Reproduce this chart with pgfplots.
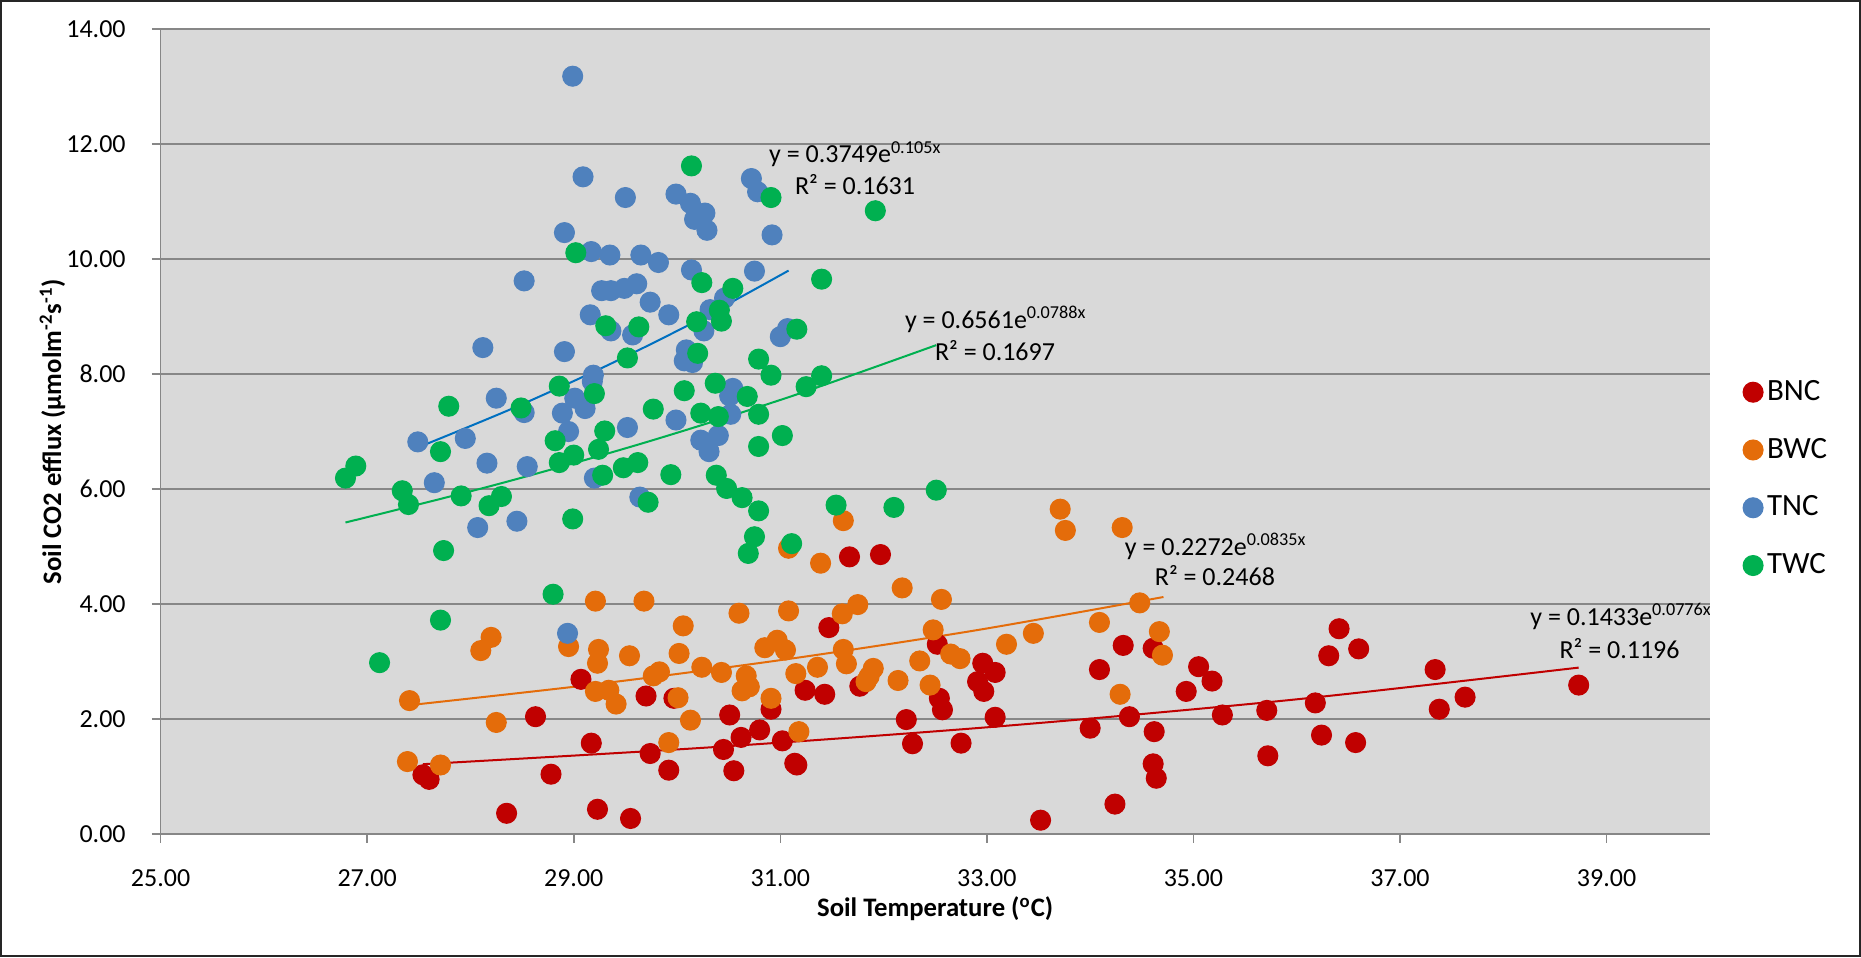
\documentclass[border=0pt]{standalone}
\usepackage{fontspec}
\setmainfont{Carlito}
\usepackage{pgfplots}
\pgfplotsset{compat=1.18}
\definecolor{bnc}{HTML}{C00000}
\definecolor{bwc}{HTML}{E46C0A}
\definecolor{tnc}{HTML}{4F81BD}
\definecolor{twc}{HTML}{00B050}
\definecolor{tnctl}{HTML}{0070C0}
\definecolor{gridc}{HTML}{878787}
\definecolor{plotbg}{HTML}{D9D9D9}
\begin{document}
\begin{tikzpicture}
\path[use as bounding box] (0,0) rectangle (715.8pt,368.1pt);
\begin{axis}[
  at={(61.77pt,47.31pt)}, anchor=south west,
  width=595.9pt, height=309.6pt, scale only axis,
  xmin=25, xmax=40, ymin=0, ymax=14,
  xtick={25,27,...,39}, ytick={0,2,...,14},
  axis background/.style={fill=plotbg},
  axis x line*=bottom, axis y line*=left,
  axis line style={gridc, line width=0.6pt},
  ymajorgrids, grid style={gridc, line width=0.65pt},
  tick style={gridc, line width=0.6pt}, tick align=outside, major tick length=3.4pt,
  /pgf/number format/fixed, /pgf/number format/fixed zerofill,
  /pgf/number format/precision=2, /pgf/number format/assume math mode=true,
  ticklabel style={font=\fontsize{10}{12}\selectfont, inner sep=0pt},
  yticklabel style={anchor=east}, xticklabel style={anchor=north},
  yticklabel shift=9.85pt, xticklabel shift=10pt,
  xlabel={\bfseries Soil Temperature (\textsuperscript{o}C)},
  xlabel style={at={(axis description cs:0.5,-0.1027)}, anchor=base, inner sep=0pt, font=\fontsize{10.27}{12}\selectfont},
  ylabel={\bfseries Soil CO2 efflux (µmolm\textsuperscript{-2}s\textsuperscript{-1})},
  ylabel style={at={(axis description cs:-0.0611,0.5)}, anchor=south, inner sep=0pt, font=\fontsize{10.27}{12}\selectfont},
  legend image code/.code={\draw[mark repeat=2,mark phase=2,#1] plot coordinates {(0pt,0pt) (5pt,0pt) (10pt,0pt)};},
  legend style={at={(rel axis cs:1.0211,0.4412)}, anchor=west, draw=none, fill=none, inner sep=0pt,
    font=\fontsize{11.9}{14}\selectfont, nodes={inner sep=0pt}, row sep=13pt,
    /tikz/every odd column/.append style={column sep=1.5pt}},
  legend cell align=left,
]
% BNC
\addplot[only marks, mark=*, mark size=3.85pt, draw=bnc, fill=bnc] coordinates {
(27.54,1.03) (27.60,0.95) (28.35,0.36) (28.63,2.04) (28.78,1.04) (29.07,2.69) (29.17,1.58)
(29.23,0.43) (29.55,0.27) (29.70,2.40) (29.74,1.40) (29.92,1.11) (29.97,2.36) (30.45,1.47)
(30.51,2.07) (30.55,1.10) (30.62,1.68) (30.80,1.81) (30.91,2.17) (31.02,1.62) (31.14,1.23)
(31.16,1.20) (31.24,2.50) (31.43,2.43) (31.47,3.59) (31.67,4.82) (31.77,2.57) (31.97,4.86)
(32.22,1.99) (32.28,1.57) (32.52,3.30) (32.54,2.36) (32.57,2.16) (32.75,1.58) (32.91,2.65)
(32.96,2.97) (32.97,2.48) (33.08,2.81) (33.08,2.03) (33.52,0.24) (34.00,1.84) (34.09,2.86)
(34.24,0.52) (34.32,3.28) (34.38,2.04) (34.61,3.23) (34.62,1.78) (34.61,1.22) (34.64,0.97)
(34.93,2.48) (35.05,2.91) (35.18,2.66) (35.28,2.07) (35.71,2.15) (35.72,1.36) (36.18,2.28)
(36.24,1.72) (36.31,3.10) (36.41,3.57) (36.57,1.59) (36.60,3.22) (37.34,2.86) (37.38,2.17)
(37.63,2.38) (38.73,2.59)
};
\addlegendentry{BNC}
% BWC
\addplot[only marks, mark=*, mark size=3.85pt, draw=bwc, fill=bwc] coordinates {
(27.39,1.26) (27.41,2.32) (27.71,1.20) (28.10,3.19) (28.20,3.42) (28.25,1.94) (28.95,3.26)
(29.21,4.05) (29.21,2.48) (29.23,2.97) (29.24,3.21) (29.34,2.50) (29.41,2.26) (29.54,3.10)
(29.68,4.05) (29.77,2.75) (29.83,2.82) (29.92,1.59) (30.01,2.37) (30.02,3.14) (30.06,3.62)
(30.13,1.98) (30.24,2.90) (30.43,2.81) (30.60,3.84) (30.63,2.49) (30.67,2.75) (30.70,2.56)
(30.85,3.24) (30.91,2.36) (30.97,3.37) (31.05,3.20) (31.08,4.97) (31.08,3.88) (31.15,2.79)
(31.18,1.78) (31.36,2.90) (31.39,4.71) (31.60,3.83) (31.61,5.45) (31.61,3.21) (31.64,2.96)
(31.75,3.99) (31.83,2.65) (31.86,2.74) (31.90,2.88) (32.14,2.67) (32.18,4.28) (32.35,3.01)
(32.45,2.59) (32.48,3.55) (32.56,4.08) (32.65,3.13) (32.74,3.05) (33.19,3.30) (33.45,3.49)
(33.71,5.65) (33.76,5.28) (34.09,3.68) (34.29,2.43) (34.31,5.33) (34.48,4.02) (34.67,3.52)
(34.70,3.11)
};
\addlegendentry{BWC}
% TNC
\addplot[only marks, mark=*, mark size=3.85pt, draw=tnc, fill=tnc] coordinates {
(27.49,6.82) (27.65,6.11) (27.95,6.88) (28.07,5.33) (28.12,8.46) (28.16,6.45) (28.25,7.58)
(28.45,5.44) (28.52,9.62) (28.52,7.33) (28.55,6.39) (28.89,7.32) (28.91,10.46) (28.91,8.39)
(28.94,3.49) (28.95,7.00) (28.99,13.18) (29.01,7.58) (29.09,11.43) (29.11,7.40) (29.16,9.03)
(29.17,10.13) (29.18,7.87) (29.19,7.98) (29.20,6.19) (29.27,9.45) (29.35,10.07) (29.36,9.45)
(29.36,8.75) (29.49,9.49) (29.50,11.07) (29.52,7.07) (29.57,8.68) (29.61,9.57) (29.64,5.86)
(29.65,10.07) (29.74,9.25) (29.82,9.94) (29.92,9.03) (29.99,11.13) (29.99,7.20) (30.07,8.23)
(30.09,8.42) (30.13,10.97) (30.14,9.81) (30.15,8.20) (30.17,10.69) (30.23,6.85) (30.26,8.75)
(30.27,10.80) (30.29,10.50) (30.31,6.65) (30.32,9.12) (30.40,6.93) (30.46,9.32) (30.51,7.62)
(30.52,7.30) (30.54,7.75) (30.72,11.40) (30.75,9.79) (30.78,11.17) (30.92,10.42) (31.00,8.65)
(31.07,8.79)
};
\addlegendentry{TNC}
% TWC
\addplot[only marks, mark=*, mark size=3.85pt, draw=twc, fill=twc] coordinates {
(26.79,6.19) (26.89,6.40) (27.12,2.98) (27.34,5.97) (27.40,5.73) (27.71,6.65) (27.71,3.72)
(27.74,4.93) (27.79,7.44) (27.91,5.88) (28.18,5.71) (28.30,5.87) (28.49,7.41) (28.80,4.17)
(28.82,6.84) (28.86,7.79) (28.86,6.46) (28.99,5.48) (29.00,6.59) (29.02,10.11) (29.20,7.66)
(29.24,6.69) (29.28,6.24) (29.30,7.01) (29.31,8.84) (29.48,6.37) (29.52,8.28) (29.62,6.46)
(29.63,8.82) (29.72,5.77) (29.77,7.39) (29.94,6.25) (30.07,7.71) (30.14,11.62) (30.19,8.91)
(30.20,8.36) (30.23,7.32) (30.24,9.59) (30.37,7.84) (30.38,6.24) (30.40,7.26) (30.41,9.11)
(30.43,8.92) (30.48,6.01) (30.54,9.49) (30.63,5.85) (30.68,7.61) (30.69,4.88) (30.75,5.17)
(30.79,8.26) (30.79,7.30) (30.79,6.74) (30.79,5.62) (30.91,11.07) (30.91,7.98) (31.02,6.93)
(31.11,5.05) (31.16,8.78) (31.25,7.78) (31.40,9.65) (31.40,7.97) (31.54,5.72) (31.92,10.84)
(32.10,5.68) (32.51,5.98)
};
\addlegendentry{TWC}
% trendlines (from printed equations)
\addplot[bnc, line width=0.77pt, smooth, forget plot] coordinates {
(27.54,1.214) (30.3375,1.509) (33.135,1.875) (35.9325,2.330) (38.73,2.894)};
\addplot[bwc, line width=0.77pt, smooth, forget plot] coordinates {
(27.41,2.241) (29.235,2.610) (31.06,3.039) (32.885,3.540) (34.71,4.122)};
\addplot[tnctl, line width=0.77pt, smooth, forget plot] coordinates {
(27.50,6.729) (28.40,7.396) (29.30,8.129) (30.20,8.934) (31.08,9.799)};
\addplot[twc, line width=0.77pt, smooth, forget plot] coordinates {
(26.79,5.418) (28.22,6.063) (29.65,6.787) (31.08,7.597) (32.51,8.503)};
% equations
\begin{scope}[every node/.style={anchor=base west, inner sep=0pt, font=\fontsize{10}{12}\selectfont}]
\node at (axis cs:30.887,11.675) {y = 0.3749e\textsuperscript{0.105x}};
\node at (axis cs:31.138,11.13) {R² = 0.1631};
\node at (axis cs:32.203,8.80) {y = 0.6561e\textsuperscript{0.0788x}};
\node at (axis cs:32.493,8.243) {R² = 0.1697};
\node at (axis cs:34.332,4.852) {y = 0.2272e\textsuperscript{0.0835x}};
\node at (axis cs:34.622,4.330) {R² = 0.2468};
\node at (axis cs:38.257,3.635) {y = 0.1433e\textsuperscript{0.0776x}};
\node at (axis cs:38.540,3.061) {R² = 0.1196};
\end{scope}
\end{axis}
\draw[black!85, line width=0.8pt] (0.4pt,0.4pt) rectangle (715.4pt,367.7pt);
\end{tikzpicture}
\end{document}
